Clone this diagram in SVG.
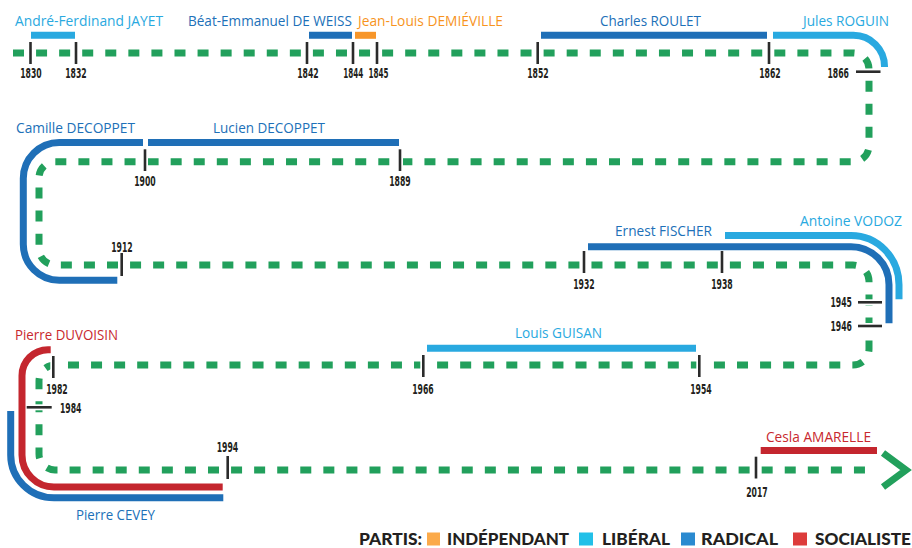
<svg xmlns="http://www.w3.org/2000/svg" width="912" height="548" viewBox="0 0 912 548">
<style>
.nm{font-family:"Open Sans","Liberation Sans",sans-serif;font-size:14px;}
.yr{font-family:"Liberation Sans Narrow","DejaVu Sans Condensed","Liberation Sans",sans-serif;font-stretch:condensed;font-weight:bold;font-size:14px;fill:#231f20;}
.lg{font-family:Lato,"Open Sans","Liberation Sans",sans-serif;font-weight:900;font-size:16.5px;fill:#231f20;}
.bar{fill:none;stroke-width:7;stroke-linecap:butt;}
.lib{stroke:#29a9e0;} .rad{stroke:#1f6fb7;} .ind{stroke:#f7962a;} .soc{stroke:#c4262e;}
.tlib{fill:#29a9e0;} .trad{fill:#2070b8;} .tind{fill:#f7941d;} .tsoc{fill:#c8282e;}
.tw{stroke:#fff;stroke-width:6;}
.tk{stroke:#2b2b2b;stroke-width:2.6;}
.line{fill:none;stroke:#22a05c;stroke-width:7;stroke-dasharray:11 12.07;}
</style>

<g id="connectors">
<path class="line" d="M13,53 H853 A16,16 0 0 1 869,69 V145.7 A16,16 0 0 1 853,161.7 H55 A16,16 0 0 0 39,177.7 V249 A16,16 0 0 0 55,265 H853 A16,16 0 0 1 869,281 V349 A16,16 0 0 1 853,365 H55 A16,16 0 0 0 39,381 V454 A16,16 0 0 0 55,470 H872"/>
<polyline points="883,453 906,470 883,487" fill="none" stroke="#22a05c" stroke-width="7" stroke-linejoin="miter"/>
</g>

<g id="jayet"><path class="bar lib" d="M31,35.3 H75"/><text class="nm tlib" x="15" y="26" textLength="148" lengthAdjust="spacingAndGlyphs">André-Ferdinand JAYET</text></g>
<g id="deweiss"><path class="bar rad" d="M309,35.3 H352"/><text class="nm trad" x="188" y="26" textLength="164" lengthAdjust="spacingAndGlyphs">Béat-Emmanuel DE WEISS</text></g>
<g id="demieville"><path class="bar ind" d="M355,35.3 H376"/><text class="nm tind" x="358" y="26" textLength="145" lengthAdjust="spacingAndGlyphs">Jean-Louis DEMIÉVILLE</text></g>
<g id="roulet"><path class="bar rad" d="M541,35.3 H767"/><text class="nm trad" x="600" y="26" textLength="101" lengthAdjust="spacingAndGlyphs">Charles ROULET</text></g>
<g id="roguin"><path class="bar lib" d="M773,35.3 H853.5 A31,31 0 0 1 884.5,66.3 V67"/><text class="nm tlib" x="803" y="26" textLength="86" lengthAdjust="spacingAndGlyphs">Jules ROGUIN</text></g>
<g id="camille-decoppet"><path class="bar rad" d="M143,142.5 H59.3 A36,36 0 0 0 23.3,178.5 V244.3 A36,36 0 0 0 59.3,280.3 H117.3"/><text class="nm trad" x="16" y="132.5" textLength="119" lengthAdjust="spacingAndGlyphs">Camille DECOPPET</text></g>
<g id="lucien-decoppet"><path class="bar rad" d="M148,142.5 H399"/><text class="nm trad" x="213" y="132.5" textLength="112" lengthAdjust="spacingAndGlyphs">Lucien DECOPPET</text></g>
<g id="fischer"><path class="bar rad" d="M588,246.7 H851 A38,38 0 0 1 889,284.7 V323.3"/><text class="nm trad" x="615" y="236" textLength="97" lengthAdjust="spacingAndGlyphs">Ernest FISCHER</text></g>
<g id="vodoz"><path class="bar lib" d="M725,235.5 H851 A48,49.2 0 0 1 899,284.7 V299.3"/><text class="nm tlib" x="800" y="226" textLength="102" lengthAdjust="spacingAndGlyphs">Antoine VODOZ</text></g>
<g id="guisan"><path class="bar lib" d="M427,348.2 H696"/><text class="nm tlib" x="515" y="338" textLength="87" lengthAdjust="spacingAndGlyphs">Louis GUISAN</text></g>
<g id="duvoisin"><path class="bar soc" d="M50.7,349.7 H48 A26,26 0 0 0 22,375.7 V455 A32,32 0 0 0 54,487 H222.7"/><text class="nm tsoc" x="15" y="340" textLength="103" lengthAdjust="spacingAndGlyphs">Pierre DUVOISIN</text></g>
<g id="cevey"><path class="bar rad" d="M10.7,411 V455 A43.3,42.8 0 0 0 54,497.8 H223.3"/><text class="nm trad" x="76" y="520" textLength="79" lengthAdjust="spacingAndGlyphs">Pierre CEVEY</text></g>
<g id="amarelle"><path class="bar soc" d="M760.7,450.5 H877"/><text class="nm tsoc" x="766" y="441.5" textLength="105" lengthAdjust="spacingAndGlyphs">Cesla AMARELLE</text></g>

<g id="ticks">
<g id="y1830"><path class="tw" d="M30.5,42 V64"/><path class="tk" d="M30.5,42 V64"/><text class="yr" x="31" y="78" text-anchor="middle" textLength="21.5" lengthAdjust="spacingAndGlyphs">1830</text></g>
<g id="y1832"><path class="tw" d="M76,42 V64"/><path class="tk" d="M76,42 V64"/><text class="yr" x="76" y="78" text-anchor="middle" textLength="21.5" lengthAdjust="spacingAndGlyphs">1832</text></g>
<g id="y1842"><path class="tw" d="M307,42 V64"/><path class="tk" d="M307,42 V64"/><text class="yr" x="308" y="78" text-anchor="middle" textLength="21.5" lengthAdjust="spacingAndGlyphs">1842</text></g>
<g id="y1844"><path class="tw" d="M353,42 V64"/><path class="tk" d="M353,42 V64"/><text class="yr" x="353.3" y="78" text-anchor="middle" textLength="20" lengthAdjust="spacingAndGlyphs">1844</text></g>
<g id="y1845"><path class="tw" d="M377,42 V64"/><path class="tk" d="M377,42 V64"/><text class="yr" x="378.5" y="78" text-anchor="middle" textLength="20" lengthAdjust="spacingAndGlyphs">1845</text></g>
<g id="y1852"><path class="tw" d="M537.7,42 V64"/><path class="tk" d="M537.7,42 V64"/><text class="yr" x="538" y="78" text-anchor="middle" textLength="21.5" lengthAdjust="spacingAndGlyphs">1852</text></g>
<g id="y1862"><path class="tw" d="M769,42 V64"/><path class="tk" d="M769,42 V64"/><text class="yr" x="770" y="78" text-anchor="middle" textLength="21.5" lengthAdjust="spacingAndGlyphs">1862</text></g>
<g id="y1866"><path class="tw" d="M856,71.7 H880.5"/><path class="tk" d="M856,71.7 H880.5"/><text class="yr" x="849" y="78" text-anchor="end" textLength="21.5" lengthAdjust="spacingAndGlyphs">1866</text></g>
<g id="y1900"><path class="tw" d="M145,149.3 V171"/><path class="tk" d="M145,149.3 V171"/><text class="yr" x="145" y="186" text-anchor="middle" textLength="21.5" lengthAdjust="spacingAndGlyphs">1900</text></g>
<g id="y1889"><path class="tw" d="M400,149.3 V171"/><path class="tk" d="M400,149.3 V171"/><text class="yr" x="400" y="186" text-anchor="middle" textLength="21.5" lengthAdjust="spacingAndGlyphs">1889</text></g>
<g id="y1912"><path class="tw" d="M121.7,253 V276"/><path class="tk" d="M121.7,253 V276"/><text class="yr" x="122" y="252" text-anchor="middle" textLength="21.5" lengthAdjust="spacingAndGlyphs">1912</text></g>
<g id="y1932"><path class="tw" d="M584,251 V273"/><path class="tk" d="M584,251 V273"/><text class="yr" x="584" y="289" text-anchor="middle" textLength="21.5" lengthAdjust="spacingAndGlyphs">1932</text></g>
<g id="y1938"><path class="tw" d="M722,251 V273"/><path class="tk" d="M722,251 V273"/><text class="yr" x="722" y="289" text-anchor="middle" textLength="21.5" lengthAdjust="spacingAndGlyphs">1938</text></g>
<g id="y1945"><path class="tw" d="M858,302.3 H882"/><path class="tk" d="M858,302.3 H882"/><text class="yr" x="852" y="306.5" text-anchor="end" textLength="21.5" lengthAdjust="spacingAndGlyphs">1945</text></g>
<g id="y1946"><path class="tw" d="M858,326 H882"/><path class="tk" d="M858,326 H882"/><text class="yr" x="852" y="331" text-anchor="end" textLength="21.5" lengthAdjust="spacingAndGlyphs">1946</text></g>
<g id="y1966"><path class="tw" d="M423.3,355 V377"/><path class="tk" d="M423.3,355 V377"/><text class="yr" x="423" y="394" text-anchor="middle" textLength="21.5" lengthAdjust="spacingAndGlyphs">1966</text></g>
<g id="y1954"><path class="tw" d="M699.3,355 V377"/><path class="tk" d="M699.3,355 V377"/><text class="yr" x="701" y="394" text-anchor="middle" textLength="21.5" lengthAdjust="spacingAndGlyphs">1954</text></g>
<g id="y1982"><path class="tw" d="M53.3,356 V378"/><path class="tk" d="M53.3,356 V378"/><text class="yr" x="57" y="394" text-anchor="middle" textLength="21.5" lengthAdjust="spacingAndGlyphs">1982</text></g>
<g id="y1984"><path class="tw" d="M26.7,407.3 H51.7"/><path class="tk" d="M26.7,407.3 H51.7"/><text class="yr" x="60" y="412.5" textLength="21.5" lengthAdjust="spacingAndGlyphs">1984</text></g>
<g id="y1994"><path class="tw" d="M227.7,456 V479"/><path class="tk" d="M227.7,456 V479"/><text class="yr" x="227.5" y="452" text-anchor="middle" textLength="21.5" lengthAdjust="spacingAndGlyphs">1994</text></g>
<g id="y2017"><path class="tw" d="M756,456.7 V478.5"/><path class="tk" d="M756,456.7 V478.5"/><text class="yr" x="757" y="497" text-anchor="middle" textLength="21.5" lengthAdjust="spacingAndGlyphs">2017</text></g>
</g>

<g id="legend">
<text class="lg" x="359" y="545" textLength="63" lengthAdjust="spacingAndGlyphs">PARTIS:</text>
<rect x="427" y="532.5" width="13" height="13" fill="#fbaa4a"/>
<text class="lg" x="447" y="545" textLength="122" lengthAdjust="spacingAndGlyphs">INDÉPENDANT</text>
<rect x="579" y="532.5" width="14" height="13" fill="#22c0e8"/>
<text class="lg" x="602" y="545" textLength="68" lengthAdjust="spacingAndGlyphs">LIBÉRAL</text>
<rect x="681" y="532.5" width="14" height="13" fill="#2a8ad0"/>
<text class="lg" x="701" y="545" textLength="77" lengthAdjust="spacingAndGlyphs">RADICAL</text>
<rect x="793" y="532.5" width="14" height="13" fill="#dd3c3b"/>
<text class="lg" x="815" y="545" textLength="96" lengthAdjust="spacingAndGlyphs">SOCIALISTE</text>
</g>
</svg>
